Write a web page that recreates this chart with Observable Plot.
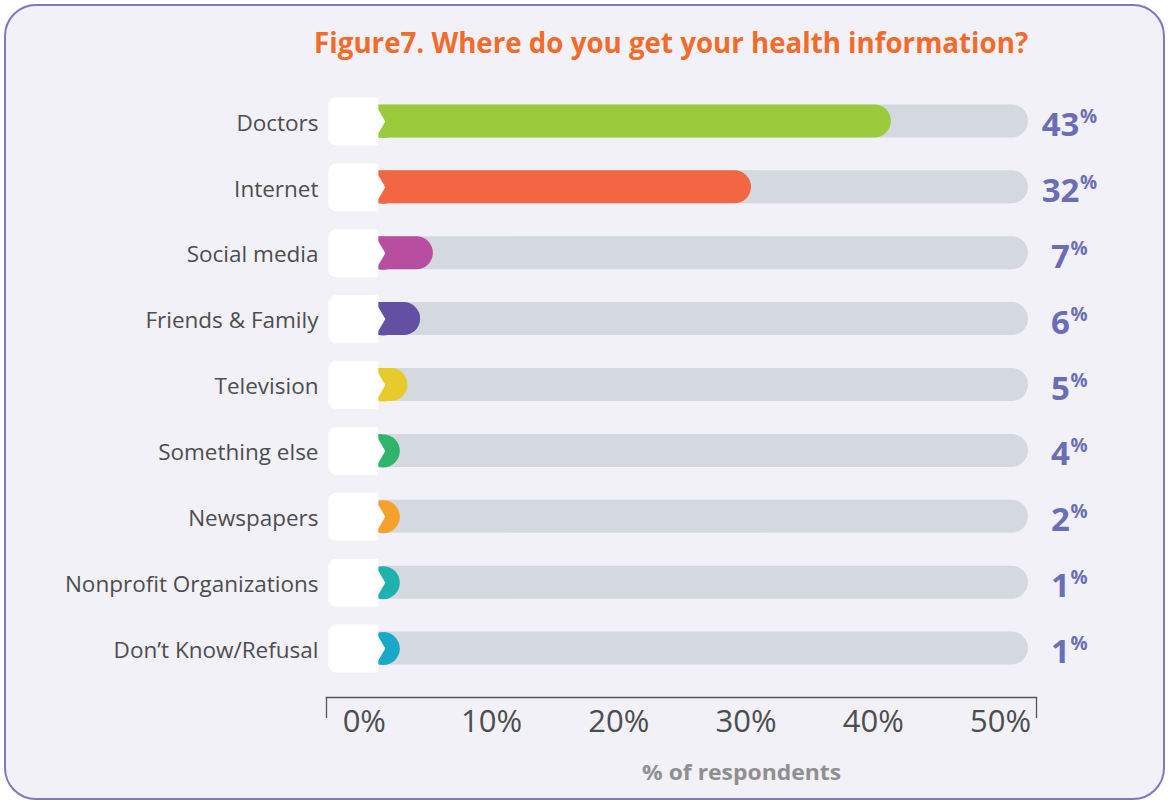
<!DOCTYPE html>
<html>
<head>
<meta charset="utf-8">
<script src="https://cdn.jsdelivr.net/npm/d3@7"></script>
<script src="https://cdn.jsdelivr.net/npm/@observablehq/plot@0.6"></script>
<style>
  html, body { margin: 0; padding: 0; background: #ffffff; }
  body { width: 1168px; height: 804px; position: relative; overflow: hidden; font-family: "Open Sans", sans-serif; }
  #card { position: absolute; left: 4px; top: 4px; width: 1157px; height: 792px; border: 2.5px solid #7c7abd; border-radius: 32px; background: #f2f1f8; }
  .htxt { position: absolute; white-space: nowrap; line-height: 1; transform-origin: center center; }
  #title { top: 28px; font-size: 28px; font-weight: 700; color: #f26b2b; }
  #xtitle { top: 759.5px; font-size: 22px; font-weight: 700; color: #8f8f8f; }
  #chart { position: absolute; left: 0; top: 0; }
</style>
</head>
<body>
<div id="card"></div>
<div id="chart"></div>
<div id="title" class="htxt">Figure7. Where do you get your health information?</div>
<div id="xtitle" class="htxt">% of respondents</div>
<script>
// ---- data ----
const categories = ["Doctors", "Internet", "Social media", "Friends & Family", "Television", "Something else", "Newspapers", "Nonprofit Organizations", "Don’t Know/Refusal"];
const values = [43, 32, 7, 6, 5, 4, 2, 1, 1];
const colors = ["#9bcb3c", "#f26643", "#b84e9f", "#6450a2", "#e7cb2b", "#2fb46b", "#f7a12d", "#1eb1ae", "#19a8c8"];
const tickValues = [0, 10, 20, 30, 40, 50];

const data = categories.map((c, i) => ({category: c, value: values[i], color: colors[i]}));

const X_MIN = -1.4, X_MAX = 54.4;

// white tab with a small chevron on its right side
const tab = {
  draw(ctx) {
    const l = -26, r = 24, p = 31, t = -24, b = 24, c = 8, h = 12;
    ctx.moveTo(l + c, t);
    ctx.lineTo(r - 2, t);
    ctx.arcTo(r, t, r, t + 2, 2);
    ctx.lineTo(r, -h);
    ctx.lineTo(p, 0);
    ctx.lineTo(r, h);
    ctx.lineTo(r, b - 2);
    ctx.arcTo(r, b, r - 2, b, 2);
    ctx.lineTo(l + c, b);
    ctx.arcTo(l, b, l, b - c, c);
    ctx.lineTo(l, t + c);
    ctx.arcTo(l, t, l + c, t, c);
    ctx.closePath();
  }
};

const inset = (593 / 9 - 33) / 2;
const pctSize = 33, digitW = 0.572 * pctSize;

const chart = Plot.plot({
  width: 1168,
  height: 760,
  marginLeft: 326,
  marginRight: 132,
  marginTop: 80,
  marginBottom: 63,
  style: {background: "transparent", fontFamily: "'Open Sans', sans-serif", overflow: "visible"},
  x: {domain: [X_MIN, X_MAX]},
  y: {domain: categories, range: [88, 681], padding: 0, round: false},
  marks: [
    Plot.barX(data, {x1: 0, x2: X_MAX, y: "category", fill: "#d3d9df", rx: 16.5, insetRight: 8, insetTop: inset, insetBottom: inset}),
    Plot.dot(data, {x: 0, y: "category", r: 16.5, fill: "color", dx: 39}),
    Plot.barX(data, {x1: 0, x2: "value", y: "category", fill: "color", rx: 16.5, insetTop: inset, insetBottom: inset}),
    Plot.dot(data, {x: 0, y: "category", symbol: tab, fill: "#ffffff", r: 10, dx: 10}),
    Plot.axisY({tickSize: 0, tickPadding: 8, fontSize: 22.5, color: "#4d4d4f", label: null, dy: 2}),
    Plot.text(data, {x: X_MAX, y: "category", text: d => String(d.value), dx: 24, dy: 4, textAnchor: "middle", fontSize: pctSize, fontWeight: "bold", fill: "#6b6eb5"}),
    Plot.text(data, {filter: d => String(d.value).length === 1, x: X_MAX, y: "category", text: () => "%", dx: 24 + digitW / 2 + 0.5, dy: -12, lineAnchor: "top", textAnchor: "start", fontSize: 19, fontWeight: "bold", fill: "#6b6eb5"}),
    Plot.text(data, {filter: d => String(d.value).length === 2, x: X_MAX, y: "category", text: () => "%", dx: 24 + digitW + 0.5, dy: -12, lineAnchor: "top", textAnchor: "start", fontSize: 19, fontWeight: "bold", fill: "#6b6eb5"}),
    Plot.frame({anchor: "bottom", stroke: "#555555", strokeWidth: 1.3}),
    Plot.axisX({ticks: [X_MIN, X_MAX], tickSize: 21, tickFormat: () => "", color: "#555555", strokeWidth: 1.3, label: null}),
    Plot.axisX({ticks: tickValues, tickSize: 0, tickPadding: 12, tickFormat: d => d + "%", fontSize: 31, color: "#4d4d4f", dx: 20, label: null})
  ]
});
document.getElementById("chart").appendChild(chart);

// fit the HTML titles to their widths and centres
function fit(id, cx, w) {
  const el = document.getElementById(id);
  const ow = el.getBoundingClientRect().width;
  el.style.left = (cx - ow / 2) + "px";
  el.style.transform = `scaleX(${w / ow})`;
}
fit("title", 671, 714);
fit("xtitle", 741.5, 199);
</script>
</body>
</html>
